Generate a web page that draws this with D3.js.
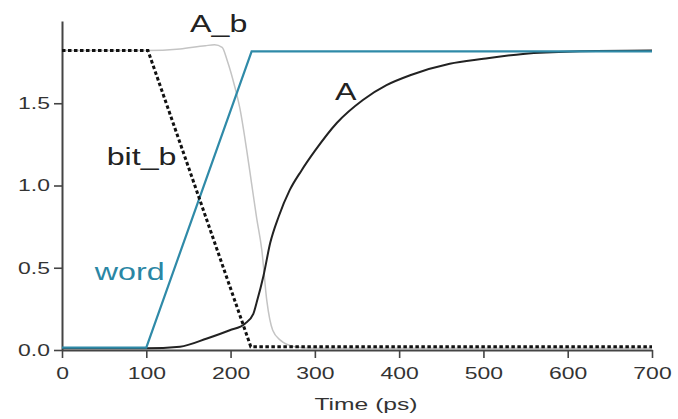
<!DOCTYPE html>
<html><head><meta charset="utf-8">
<script src="https://cdn.jsdelivr.net/npm/d3@7"></script>
<style>body{margin:0;background:#fff}svg{display:block}</style>
</head><body>
<svg id="c" width="678" height="419"></svg>
<script>
const xTicks = [0,100,200,300,400,500,600,700];
const yTicks = [0,0.5,1.0,1.5];
const wordT = [0,100,225,700];
const wordV = [0.015,0.015,1.815,1.815];
const bitbT = [0,102,224,700];
const bitbV = [1.82,1.82,0.02,0.02];
const abT = [0,100,140,170,181,190,196,205,211,219,225,231,237,243,250,259,276,300,700];
const abV = [1.82,1.82,1.83,1.85,1.855,1.84,1.76,1.60,1.47,1.22,1.01,0.8,0.61,0.30,0.12,0.06,0.02,0.01,0.01];
const aT = [0,100,140,172,199,217,227,231,239,247,257,270,284,300,326,357,385,413,460,500,547,606,700];
const aV = [0.01,0.01,0.02,0.07,0.12,0.16,0.22,0.29,0.45,0.65,0.81,0.97,1.09,1.21,1.38,1.52,1.61,1.67,1.74,1.77,1.80,1.815,1.82];
const labels = [
  {text:"A_b", t:152, v:1.933, color:"#222"},
  {text:"A", t:324, v:1.52, color:"#222"},
  {text:"bit_b", t:53, v:1.125, color:"#222"},
  {text:"word", t:39, v:0.425, color:"#2a86a4"}
];

const svg = d3.select("#c");
const x = d3.scaleLinear().domain([0,700]).range([62,652]);
const y = d3.scaleLinear().domain([0,2]).range([350,21]);
const font = "'Liberation Sans', Arial, sans-serif";
const axisColor = "#444";

const gx = svg.append("g").attr("transform","translate(0,350)")
  .call(d3.axisBottom(x).tickValues(xTicks).tickFormat(d3.format("d")).tickSize(8).tickSizeOuter(0).tickPadding(6));
const gy = svg.append("g").attr("transform","translate(62,0)")
  .call(d3.axisLeft(y).tickValues(yTicks).tickFormat(d3.format(".1f")).tickSize(8).tickSizeOuter(0).tickPadding(4));
[gx,gy].forEach(g=>{
  g.select(".domain").attr("stroke",axisColor).attr("stroke-width",2);
  g.selectAll(".tick line").attr("stroke",axisColor).attr("stroke-width",1.6);
  g.selectAll(".tick text").attr("fill","#333").style("font-family",font).style("font-size","17px");
});
gx.selectAll(".tick text").attr("transform","scale(1.35,1)").attr("dy","0.9em");
gy.selectAll(".tick text").attr("x",-12/1.35).attr("transform","scale(1.35,1)");

const line = (ts,vs,curve)=> d3.line().x(d=>x(d[0])).y(d=>y(d[1])).curve(curve)(ts.map((t,i)=>[t,vs[i]]));

svg.append("path").attr("d",line(abT,abV,d3.curveMonotoneX)).attr("fill","none").attr("stroke","#c4c4c4").attr("stroke-width",1.5);
svg.append("path").attr("d",line(aT,aV,d3.curveMonotoneX)).attr("fill","none").attr("stroke","#222").attr("stroke-width",2);
svg.append("path").attr("d",line(wordT,wordV,d3.curveLinear)).attr("fill","none").attr("stroke","#2f8aa8").attr("stroke-width",2.2);
svg.append("path").attr("d",line(bitbT,bitbV,d3.curveLinear)).attr("fill","none").attr("stroke","#111").attr("stroke-width",3).attr("stroke-dasharray","3.5,2.5");

labels.forEach(l=>{
  svg.append("text").attr("transform",`translate(${x(l.t)},${y(l.v)}) scale(1.4,1)`)
    .attr("text-anchor","start").attr("fill",l.color)
    .style("font-family",font).style("font-size","23px").text(l.text);
});

svg.append("text").attr("transform","translate(366,410) scale(1.45,1)").attr("text-anchor","middle")
  .attr("fill","#333").style("font-family",font).style("font-size","17px").text("Time (ps)");
</script>
</body></html>
